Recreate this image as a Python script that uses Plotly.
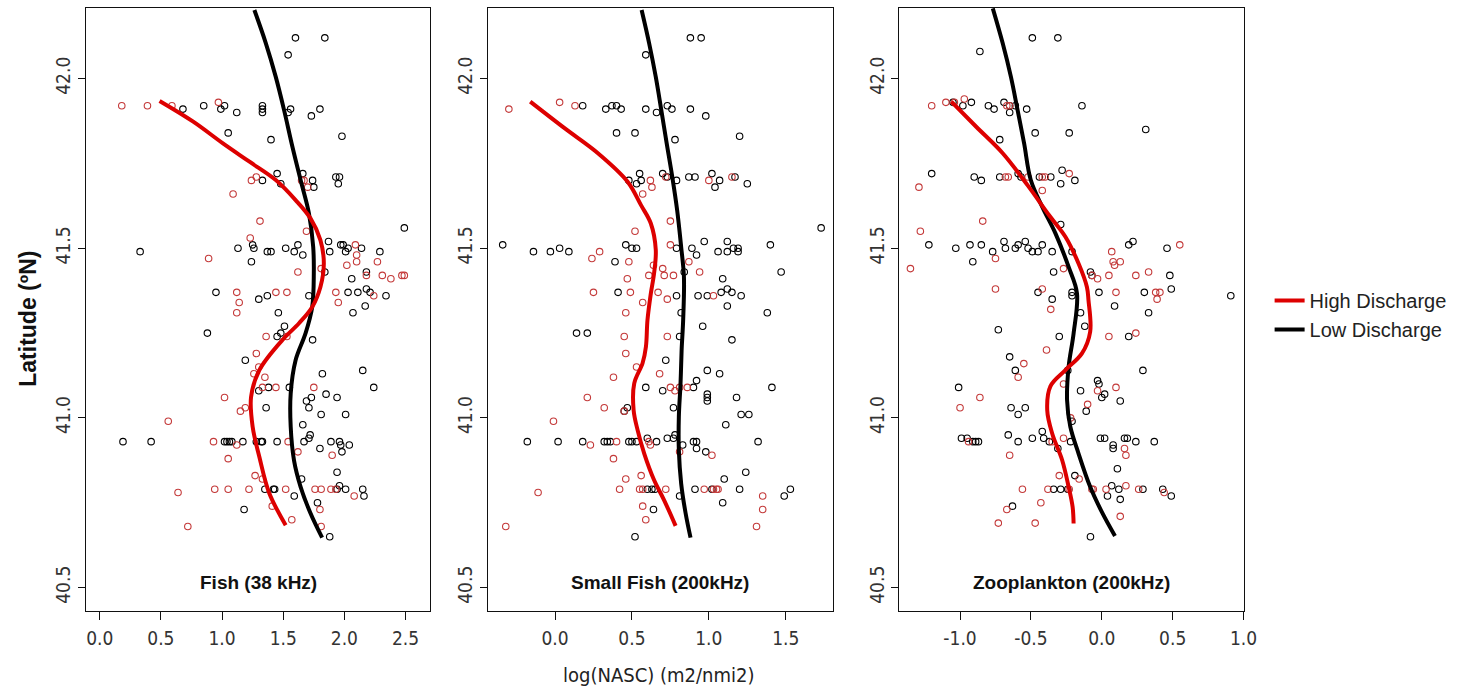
import plotly.graph_objects as go

# ---------------- data ----------------
# Panel 1: Fish (38 kHz)
fish_low_x = [1.60,1.84,1.54,0.68,0.85,0.99,1.02,1.12,1.33,1.33,1.33,1.54,1.56,1.73,1.80,1.05,1.40,1.98,
              1.45,1.48,1.33,1.66,1.74,1.75,1.93,1.96,1.95,2.49,0.33,1.13,1.25,1.26,1.37,1.40,1.52,1.59,1.62,
              1.66,1.87,1.88,1.97,1.99,2.01,2.03,2.14,2.29,1.24,2.06,2.18,1.84,0.95,1.30,1.37,1.71,2.03,2.11,
              2.18,2.21,2.34,2.17,1.46,2.07,0.88,1.51,1.48,1.45,1.74,1.19,1.82,2.15,2.24,1.55,1.30,1.38,1.85,
              1.94,1.69,1.73,1.71,1.36,1.81,2.01,1.66,1.72,1.71,0.19,0.42,1.02,1.04,1.06,1.08,1.17,1.28,1.32,
              1.33,1.45,1.67,1.89,1.96,1.97,2.04,1.80,1.98,1.94,1.65,1.35,1.42,1.43,1.59,1.78,1.96,1.94,2.01,
              2.15,2.16,1.18,1.88]
fish_low_y = [42.12,42.12,42.07,41.91,41.92,41.91,41.92,41.90,41.92,41.91,41.90,41.90,41.91,41.89,41.91,41.84,41.82,41.83,
              41.72,41.69,41.70,41.72,41.70,41.68,41.71,41.71,41.69,41.56,41.49,41.50,41.51,41.50,41.49,41.49,41.50,41.49,41.51,
              41.48,41.52,41.49,41.51,41.51,41.49,41.50,41.50,41.49,41.46,41.41,41.43,41.43,41.37,41.35,41.36,41.36,41.37,41.37,
              41.38,41.37,41.36,41.33,41.31,41.31,41.25,41.27,41.25,41.24,41.23,41.17,41.13,41.14,41.09,41.09,41.08,41.09,41.07,
              41.06,41.05,41.06,41.03,41.03,41.01,41.01,40.98,40.95,40.94,40.93,40.93,40.93,40.93,40.93,40.93,40.93,40.93,40.93,
              40.93,40.93,40.93,40.93,40.93,40.92,40.92,40.91,40.90,40.84,40.82,40.79,40.79,40.79,40.77,40.75,40.80,40.79,40.79,
              40.79,40.77,40.73,40.65]
fish_high_x = [0.18,0.39,0.59,0.97,1.24,1.28,1.09,1.65,1.67,1.70,1.31,1.23,1.69,0.89,2.09,2.10,1.62,1.81,2.02,2.10,
               2.27,2.18,2.31,2.38,2.47,2.49,1.12,1.14,1.44,1.53,1.93,1.95,2.24,1.12,1.36,1.53,1.28,1.30,1.26,1.35,
               1.33,1.44,1.75,1.02,1.19,1.15,0.56,0.93,1.12,1.54,1.62,1.05,1.90,1.27,1.33,0.64,0.94,1.05,1.22,1.52,
               1.76,1.81,1.89,1.93,2.08,1.41,1.80,1.57,1.81,0.72]
fish_high_y = [41.92,41.92,41.92,41.93,41.70,41.71,41.66,41.70,41.70,41.68,41.58,41.53,41.55,41.47,41.51,41.48,41.43,41.44,41.45,41.46,
               41.46,41.42,41.42,41.41,41.42,41.42,41.37,41.34,41.37,41.37,41.37,41.34,41.36,41.31,41.24,41.24,41.19,41.15,41.13,41.12,
               41.09,41.09,41.09,41.06,41.03,41.02,40.99,40.93,40.92,40.93,40.90,40.88,40.89,40.83,40.82,40.78,40.79,40.79,40.79,40.79,
               40.79,40.79,40.79,40.79,40.77,40.74,40.73,40.70,40.68,40.68]
fish_low_fit_x = [1.264,1.358,1.439,1.507,1.575,1.642,1.710,1.745,1.750,1.737,1.682,1.601,1.561,1.561,1.588,1.642,1.723,1.818]
fish_low_fit_y = [42.202,42.104,42.005,41.907,41.799,41.701,41.603,41.504,41.426,41.327,41.249,41.170,41.072,40.974,40.875,40.797,40.719,40.647]
fish_high_fit_x = [0.489,0.764,1.007,1.224,1.439,1.601,1.723,1.804,1.832,1.804,1.737,1.629,1.494,1.305,1.237,1.250,1.305,1.386,1.520]
fish_high_fit_y = [41.934,41.873,41.809,41.755,41.701,41.642,41.588,41.524,41.455,41.386,41.327,41.279,41.230,41.141,41.062,40.974,40.885,40.778,40.684]

# Panel 2: Small Fish (200kHz)
sf_low_x = [0.88,0.95,0.59,0.18,0.33,0.37,0.40,0.43,0.59,0.66,0.73,0.76,0.88,0.98,0.40,0.52,0.78,1.20,0.55,0.48,0.53,0.56,
            0.70,0.73,0.79,0.87,0.91,1.02,1.04,1.07,1.17,1.25,-0.34,-0.14,-0.03,0.03,0.09,0.46,0.50,0.53,0.39,0.79,0.89,
            0.92,0.97,1.06,1.12,1.12,1.16,1.19,1.19,1.40,1.47,0.84,1.09,0.41,0.79,0.93,0.99,1.08,1.12,1.15,1.21,1.12,1.38,
            0.82,0.14,0.21,0.96,0.81,1.15,0.72,0.99,1.07,0.92,0.90,1.41,0.59,0.70,0.99,0.99,0.99,1.18,0.47,0.45,0.77,1.21,
            1.26,1.11,-0.18,0.02,0.18,0.32,0.34,0.36,0.48,0.50,0.53,0.60,0.66,0.73,0.77,0.78,0.83,0.90,0.92,0.92,0.98,1.32,
            1.24,1.10,0.60,0.63,0.65,0.91,0.81,1.02,1.20,1.09,1.49,1.53,0.64,0.52,1.73]
sf_low_y = [42.12,42.12,42.07,41.92,41.91,41.92,41.92,41.91,41.91,41.90,41.92,41.91,41.91,41.89,41.84,41.84,41.82,41.83,41.72,41.70,41.69,41.70,
            41.72,41.71,41.70,41.71,41.71,41.72,41.68,41.70,41.71,41.69,41.51,41.49,41.49,41.50,41.49,41.51,41.50,41.50,41.46,41.50,41.50,
            41.48,41.52,41.49,41.52,41.49,41.50,41.50,41.49,41.51,41.43,41.43,41.41,41.37,41.36,41.36,41.36,41.37,41.38,41.37,41.36,41.33,41.31,
            41.31,41.25,41.25,41.27,41.24,41.23,41.17,41.14,41.13,41.11,41.09,41.09,41.09,41.08,41.07,41.06,41.05,41.06,41.03,41.02,41.03,41.01,
            41.01,40.98,40.93,40.93,40.93,40.93,40.93,40.93,40.93,40.93,40.93,40.94,40.93,40.94,40.94,40.95,40.92,40.93,40.93,40.91,40.90,40.93,
            40.84,40.82,40.79,40.79,40.79,40.79,40.77,40.79,40.79,40.75,40.77,40.79,40.73,40.65,41.56]
sf_high_x = [-0.30,0.03,0.13,0.62,0.63,0.57,0.72,1.00,1.15,0.75,0.52,0.75,0.24,0.29,0.48,0.64,0.70,0.77,0.61,0.71,0.87,0.94,
             0.47,0.25,0.49,0.67,0.73,0.57,1.03,0.46,0.45,0.73,0.46,0.53,0.68,0.38,0.75,0.78,0.81,0.86,0.21,0.32,0.45,-0.01,
             0.23,0.40,0.61,0.62,0.81,1.02,0.38,0.56,0.46,-0.11,0.42,0.55,0.57,0.72,0.97,1.03,1.05,1.06,1.35,0.57,1.35,0.59,
             1.31,-0.32]
sf_high_y = [41.91,41.93,41.92,41.70,41.68,41.66,41.71,41.70,41.71,41.58,41.55,41.51,41.47,41.49,41.46,41.45,41.44,41.42,41.42,41.42,41.46,41.43,
             41.41,41.37,41.37,41.37,41.35,41.34,41.36,41.31,41.24,41.24,41.19,41.15,41.13,41.12,41.09,41.08,41.09,41.09,41.06,41.03,41.02,40.99,
             40.92,40.93,40.93,40.92,40.90,40.89,40.88,40.83,40.82,40.78,40.79,40.79,40.79,40.79,40.79,40.79,40.79,40.79,40.77,40.74,40.73,40.70,
             40.68,40.68]
sf_low_fit_x = [0.563,0.612,0.655,0.691,0.726,0.762,0.794,0.820,0.838,0.833,0.823,0.816,0.805,0.805,0.820,0.849,0.881]
sf_low_fit_y = [42.202,42.104,42.005,41.907,41.809,41.711,41.612,41.504,41.416,41.288,41.200,41.102,41.003,40.905,40.807,40.719,40.647]
sf_high_fit_x = [-0.161,0.064,0.279,0.472,0.559,0.623,0.655,0.644,0.623,0.601,0.591,0.569,0.515,0.511,0.537,0.580,0.644,0.709,0.784]
sf_high_fit_y = [41.932,41.853,41.780,41.696,41.627,41.573,41.495,41.426,41.367,41.288,41.210,41.161,41.102,41.023,40.964,40.895,40.817,40.758,40.682]

# Panel 3: Zooplankton (200kHz)
zp_low_x = [-0.49,-0.31,-0.86,-1.05,-0.98,-0.92,-0.80,-0.76,-0.69,-0.65,-0.65,-0.61,-0.53,-0.14,-0.47,-0.23,-0.72,0.31,
            -1.20,-0.90,-0.85,-0.72,-0.59,-0.57,-0.44,-0.36,-0.28,-0.29,-0.19,-0.29,-1.22,-1.03,-0.93,-0.85,-0.91,-0.77,
            -0.69,-0.68,-0.61,-0.59,-0.54,-0.52,-0.49,-0.45,-0.42,-0.35,-0.21,-0.34,-0.08,-0.07,0.19,0.22,0.46,0.48,-0.45,
            -0.35,-0.21,-0.21,-0.02,0.30,0.49,0.09,0.33,-0.15,-0.73,-0.30,0.19,-0.12,-0.65,0.29,-0.61,-0.24,-0.03,-0.02,
            -1.01,-0.15,0.00,0.02,0.13,-0.64,-0.54,-0.59,-0.11,-0.21,-0.99,-0.95,-0.91,-0.89,-0.87,-0.66,-0.59,-0.49,-0.42,
            -0.41,-0.37,-0.31,-0.22,-0.01,0.02,0.08,0.08,0.16,0.18,0.24,0.37,0.11,-0.19,-0.34,-0.29,-0.24,0.07,0.12,0.04,
            0.13,0.29,0.43,0.49,-0.63,-0.08,0.91]
zp_low_y = [42.12,42.12,42.08,41.93,41.92,41.93,41.92,41.91,41.93,41.92,41.90,41.92,41.91,41.92,41.84,41.84,41.82,41.85,
            41.72,41.71,41.70,41.71,41.72,41.71,41.71,41.71,41.73,41.69,41.70,41.57,41.51,41.50,41.51,41.51,41.46,41.49,
            41.52,41.50,41.50,41.51,41.52,41.50,41.49,41.49,41.51,41.49,41.49,41.43,41.43,41.42,41.51,41.52,41.50,41.42,41.37,
            41.35,41.37,41.36,41.37,41.37,41.38,41.33,41.31,41.31,41.26,41.24,41.24,41.27,41.18,41.14,41.14,41.14,41.11,41.10,
            41.09,41.08,41.06,41.07,41.05,41.03,41.03,41.01,41.02,40.99,40.94,40.94,40.93,40.93,40.93,40.95,40.93,40.94,40.96,
            40.94,40.93,40.91,40.93,40.94,40.94,40.92,40.91,40.94,40.94,40.93,40.93,40.85,40.83,40.79,40.79,40.79,40.80,40.79,40.77,
            40.76,40.79,40.79,40.77,40.74,40.65,41.36]
zp_high_x = [-1.20,-1.10,-1.04,-0.97,-0.67,-0.65,-1.29,-0.68,-0.66,-0.52,-0.42,-0.40,-0.23,-0.42,-1.28,-0.84,-1.35,-0.75,
             -0.75,-0.42,-0.27,-0.07,-0.03,0.05,0.07,0.08,0.13,0.09,0.24,0.33,0.10,0.38,0.39,0.41,-0.36,0.05,0.24,-0.39,
             -0.55,-0.59,-0.86,-1.00,-0.27,-0.03,0.10,-0.10,-0.22,-0.94,-0.35,-0.27,0.16,0.17,-0.65,-0.30,-0.16,-0.56,
             -0.38,-0.23,-0.07,-0.06,0.03,0.17,0.26,0.44,-0.67,-0.43,0.13,-0.73,-0.47,0.55]
zp_high_y = [41.92,41.93,41.93,41.94,41.92,41.92,41.68,41.71,41.71,41.71,41.71,41.71,41.72,41.67,41.55,41.58,41.44,41.47,
             41.38,41.38,41.44,41.42,41.41,41.42,41.49,41.46,41.46,41.45,41.42,41.43,41.37,41.37,41.35,41.37,41.32,41.24,41.25,41.20,
             41.16,41.12,41.06,41.03,41.10,41.08,41.09,41.04,41.00,40.93,40.93,40.94,40.91,40.89,40.89,40.83,40.82,40.79,
             40.79,40.79,40.79,40.79,40.79,40.80,40.79,40.78,40.73,40.75,40.71,40.69,40.69,41.51]
zp_low_fit_x = [-0.769,-0.699,-0.641,-0.594,-0.548,-0.501,-0.420,-0.327,-0.234,-0.175,-0.199,-0.234,-0.245,-0.222,-0.164,-0.082,0.000,0.093]
zp_low_fit_y = [42.207,42.104,42.005,41.907,41.809,41.701,41.622,41.544,41.445,41.367,41.249,41.151,41.052,40.974,40.895,40.797,40.723,40.652]
zp_high_fit_x = [-1.061,-0.886,-0.699,-0.524,-0.373,-0.257,-0.164,-0.105,-0.094,-0.082,-0.140,-0.257,-0.362,-0.385,-0.350,-0.280,-0.234,-0.206,-0.199]
zp_high_fit_y = [41.932,41.858,41.780,41.686,41.598,41.534,41.455,41.386,41.347,41.254,41.190,41.141,41.094,41.023,40.954,40.876,40.797,40.738,40.689]

panel_titles = ["Fish (38 kHz)", "Small Fish (200kHz)", "Zooplankton (200kHz)"]
x_tickvals = [[0.0, 0.5, 1.0, 1.5, 2.0, 2.5], [0.0, 0.5, 1.0, 1.5], [-1.0, -0.5, 0.0, 0.5, 1.0]]
x_ticktext = [["0.0", "0.5", "1.0", "1.5", "2.0", "2.5"], ["0.0", "0.5", "1.0", "1.5"], ["-1.0", "-0.5", "0.0", "0.5", "1.0"]]
y_tickvals = [40.5, 41.0, 41.5, 42.0]
y_ticktext = ["40.5", "41.0", "41.5", "42.0"]
series_names = ["High Discharge", "Low Discharge"]

# ---------------- styling ----------------
W, H = 1462, 690
RED_PT = "#C43A3A"
RED_LN = "#DD0000"
BLACK = "#000000"
NARROW = "Liberation Sans Narrow, Arial Narrow, DejaVu Sans Condensed, Liberation Sans, Arial, sans-serif"
TICK_FONT = dict(family=NARROW, size=19, color="#333333")

x_domains = [[86.7 / W, 434 / W], [492 / W, 840 / W], [907.3 / W, 1255 / W]]
x_ranges = [[-0.113, 2.701], [-0.438, 1.804], [-1.429, 1.002]]
y_domain = [(H - 611) / H, (H - 8) / H]
y_range = [40.431, 42.208]

panels = [
    (fish_low_x, fish_low_y, fish_high_x, fish_high_y, fish_low_fit_x, fish_low_fit_y, fish_high_fit_x, fish_high_fit_y),
    (sf_low_x, sf_low_y, sf_high_x, sf_high_y, sf_low_fit_x, sf_low_fit_y, sf_high_fit_x, sf_high_fit_y),
    (zp_low_x, zp_low_y, zp_high_x, zp_high_y, zp_low_fit_x, zp_low_fit_y, zp_high_fit_x, zp_high_fit_y),
]

fig = go.Figure()
for i, (lx, ly, hx, hy, lfx, lfy, hfx, hfy) in enumerate(panels):
    xa = "x" if i == 0 else f"x{i + 1}"
    ya = "y" if i == 0 else f"y{i + 1}"
    fig.add_trace(go.Scatter(x=lx, y=ly, mode="markers", xaxis=xa, yaxis=ya, showlegend=False,
                             marker=dict(symbol="circle-open", size=6.5, color=BLACK, line=dict(width=1.1, color=BLACK))))
    fig.add_trace(go.Scatter(x=hx, y=hy, mode="markers", xaxis=xa, yaxis=ya, showlegend=False,
                             marker=dict(symbol="circle-open", size=6.5, color=RED_PT, line=dict(width=1.1, color=RED_PT))))
    fig.add_trace(go.Scatter(x=lfx, y=lfy, mode="lines", xaxis=xa, yaxis=ya, name=series_names[1],
                             showlegend=(i == 0), legendrank=2,
                             line=dict(color=BLACK, width=4, shape="spline", smoothing=1.0)))
    fig.add_trace(go.Scatter(x=hfx, y=hfy, mode="lines", xaxis=xa, yaxis=ya, name=series_names[0],
                             showlegend=(i == 0), legendrank=1,
                             line=dict(color=RED_LN, width=4, shape="spline", smoothing=1.0)))

    axis_common = dict(showline=True, linecolor="#111111", linewidth=1.2, mirror=True, showgrid=False,
                       zeroline=False, ticks="outside", tickcolor="#111111", tickwidth=1.2, tickfont=TICK_FONT)
    xkey = "xaxis" if i == 0 else f"xaxis{i + 1}"
    ykey = "yaxis" if i == 0 else f"yaxis{i + 1}"
    fig.layout[xkey] = dict(domain=x_domains[i], range=x_ranges[i], anchor=ya, tickmode="array",
                            tickvals=x_tickvals[i], ticktext=x_ticktext[i], ticklen=8, ticklabelstandoff=2,
                            **axis_common)
    fig.layout[ykey] = dict(domain=y_domain, range=y_range, anchor=xa, tickmode="array",
                            tickvals=y_tickvals, ticktext=y_ticktext, ticklen=7, tickangle=-90,
                            ticklabelstandoff=0, **axis_common)
    # panel title
    fig.add_annotation(text=f"<b>{panel_titles[i]}</b>", xref=f"{xa} domain", yref="paper",
                       x=0.5, y=(H - 582) / H, xanchor="center", yanchor="middle", showarrow=False,
                       font=dict(family="Liberation Sans, Arial, sans-serif", size=19, color="#111111"))

fig.add_annotation(text="<b>Latitude (ºN)</b>", xref="paper", yref="paper", x=28 / W, y=(H - 319) / H,
                   xanchor="center", yanchor="middle", textangle=-90, showarrow=False,
                   font=dict(family="Liberation Sans, Arial, sans-serif", size=23, color="#111111"))
fig.add_annotation(text="log(NASC) (m2/nmi2)", xref="paper", yref="paper", x=664 / W, y=(H - 675) / H,
                   xanchor="center", yanchor="middle", showarrow=False,
                   font=dict(family=NARROW, size=20, color="#222222"))

fig.update_layout(
    width=W, height=H, margin=dict(l=0, r=0, t=0, b=0, pad=0),
    paper_bgcolor="white", plot_bgcolor="white",
    legend=dict(x=1281 / W, y=(H - 281) / H, xanchor="left", yanchor="top",
                font=dict(family="Liberation Sans, Arial, sans-serif", size=20, color="#222222"),
                bgcolor="rgba(0,0,0,0)", borderwidth=0, tracegroupgap=0),
    showlegend=True,
)

fig.write_html("out.html")
